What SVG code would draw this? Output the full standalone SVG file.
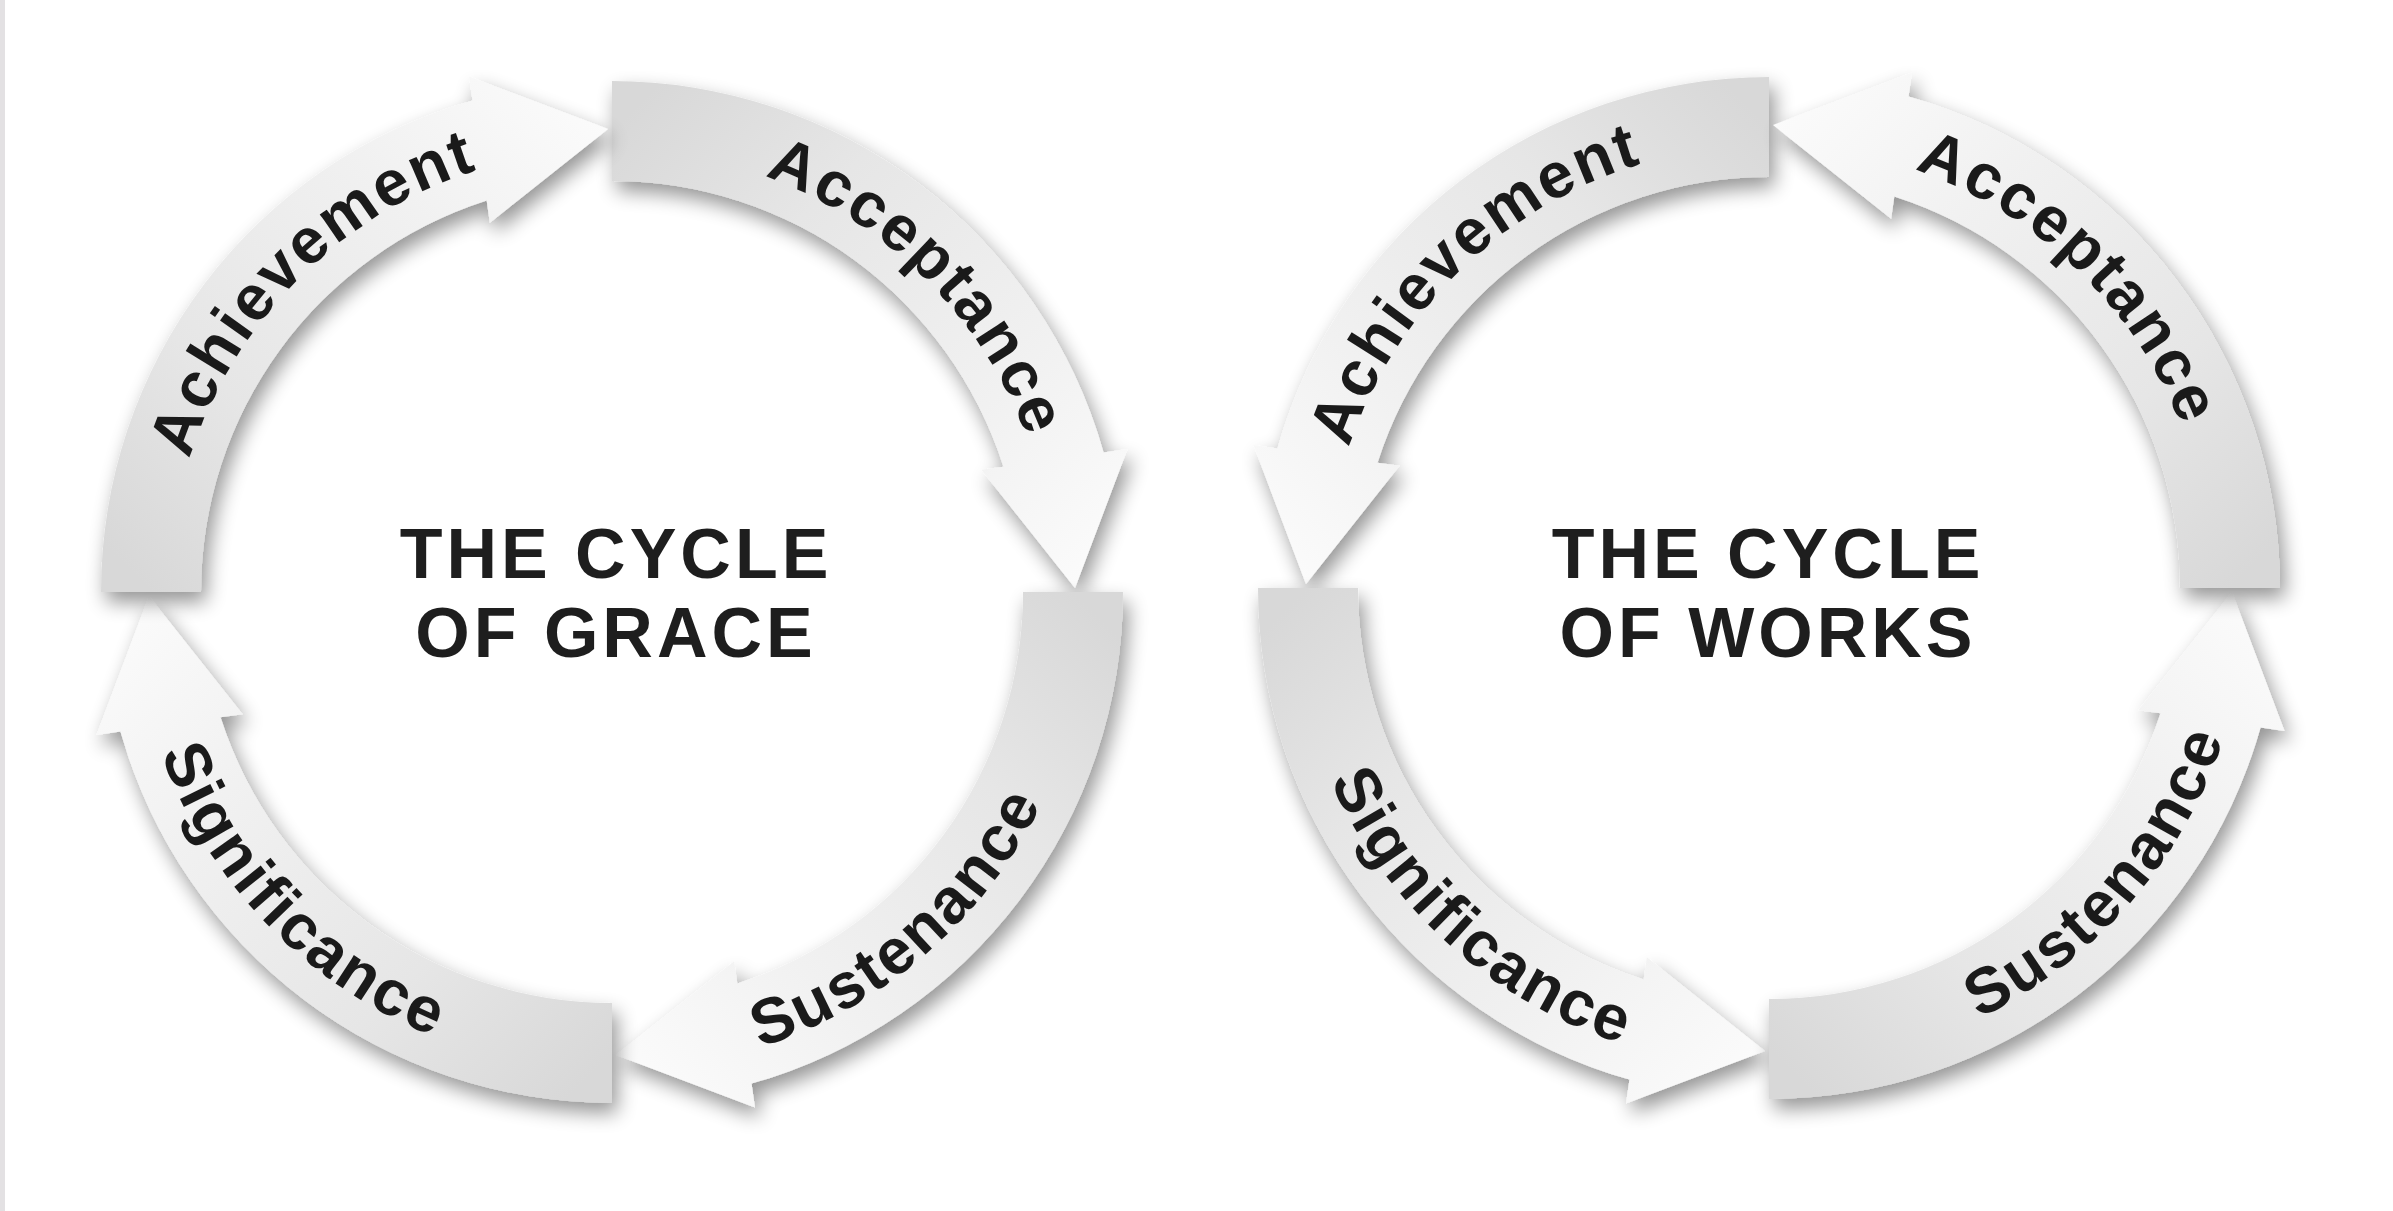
<svg xmlns="http://www.w3.org/2000/svg" width="2393" height="1211" viewBox="0 0 2393 1211">
  <style>
    .lbl { font-family: "Liberation Sans", Arial, sans-serif; font-weight: bold; font-size: 64px; letter-spacing: 2.5px; fill: #1a1a1a; }
    .title { font-family: "Liberation Sans", Arial, sans-serif; font-weight: bold; fill: #1e1e1e; text-anchor: middle; font-size: 70px; letter-spacing: 4px; }
  </style>
  <defs>
    <linearGradient id="armFill" gradientUnits="userSpaceOnUse" x1="0" y1="-461" x2="463" y2="0">
      <stop offset="0" stop-color="#d8d8d8"/>
      <stop offset="0.3" stop-color="#e6e6e6"/>
      <stop offset="0.7" stop-color="#f1f1f1"/>
      <stop offset="1" stop-color="#fbfbfb"/>
    </linearGradient>
    <filter id="shadow" x="-25%" y="-25%" width="150%" height="160%">
      <feGaussianBlur in="SourceAlpha" stdDeviation="10"/>
      <feOffset dx="5" dy="10"/>
      <feComponentTransfer>
        <feFuncA type="linear" slope="0.42"/>
      </feComponentTransfer>
      <feMerge>
        <feMergeNode/>
        <feMergeNode in="SourceGraphic"/>
      </feMerge>
    </filter>
    <path id="arm" fill="url(#armFill)" d="M0,-511 A511,511 0 0 1 491.56,-139.55 L515.54,-142.97 L463,-4 L369.33,-122.14 L391.48,-125.30 A411,411 0 0 0 0,-411 Z"/>
    <!-- label paths, left circle -->
    <path id="tpGAch" d="M249.12,846.10 A443,443 0 0 1 866.10,229.12"/>
    <path id="tpGAcc" d="M357.90,229.12 A443,443 0 0 1 974.88,846.10"/>
    <path id="tpGSus" d="M310.56,964.25 A479,479 0 0 0 1022.58,345.30"/>
    <path id="tpGSig" d="M224.48,310.45 A479,479 0 0 0 879.85,989.11"/>
    <!-- label paths, right circle -->
    <path id="tpWAch" d="M1401.74,835.72 A443,443 0 0 1 2029.39,229.60"/>
    <path id="tpWAcc" d="M1508.61,229.60 A443,443 0 0 1 2136.26,835.72"/>
    <path id="tpWSig" d="M1362.78,334.17 A479,479 0 0 0 2063.90,965.46"/>
    <path id="tpWSus" d="M1522.30,998.58 A479,479 0 0 0 2141.25,286.56"/>
  </defs>

  <rect x="0" y="0" width="2393" height="1211" fill="#ffffff"/>
  <rect x="0" y="0" width="5" height="1211" fill="#e3e1e3"/>

  <!-- Cycle of Grace (clockwise) -->
  <g id="grace-acceptance">
    <g filter="url(#shadow)"><use href="#arm" transform="translate(612,592) rotate(0)"/></g>
    <text class="lbl"><textPath href="#tpGAcc" startOffset="50%" text-anchor="middle">Acceptance</textPath></text>
  </g>
  <g id="grace-sustenance">
    <g filter="url(#shadow)"><use href="#arm" transform="translate(612,592) rotate(90)"/></g>
    <text class="lbl"><textPath href="#tpGSus" startOffset="50%" text-anchor="middle">Sustenance</textPath></text>
  </g>
  <g id="grace-significance">
    <g filter="url(#shadow)"><use href="#arm" transform="translate(612,592) rotate(180)"/></g>
    <text class="lbl"><textPath href="#tpGSig" startOffset="50%" text-anchor="middle">Significance</textPath></text>
  </g>
  <g id="grace-achievement">
    <g filter="url(#shadow)"><use href="#arm" transform="translate(612,592) rotate(270)"/></g>
    <text class="lbl"><textPath href="#tpGAch" startOffset="50%" text-anchor="middle">Achievement</textPath></text>
  </g>
  <g id="grace-title">
    <text class="title" x="616" y="578">THE CYCLE</text>
    <text class="title" x="616" y="657">OF GRACE</text>
  </g>

  <!-- Cycle of Works (counter-clockwise) -->
  <g id="works-achievement">
    <g filter="url(#shadow)"><use href="#arm" transform="translate(1769,588) scale(-1,1)"/></g>
    <text class="lbl"><textPath href="#tpWAch" startOffset="50%" text-anchor="middle">Achievement</textPath></text>
  </g>
  <g id="works-significance">
    <g filter="url(#shadow)"><use href="#arm" transform="translate(1769,588) scale(-1,1) rotate(90)"/></g>
    <text class="lbl"><textPath href="#tpWSig" startOffset="50%" text-anchor="middle">Significance</textPath></text>
  </g>
  <g id="works-sustenance">
    <g filter="url(#shadow)"><use href="#arm" transform="translate(1769,588) scale(-1,1) rotate(180)"/></g>
    <text class="lbl"><textPath href="#tpWSus" startOffset="50%" text-anchor="middle">Sustenance</textPath></text>
  </g>
  <g id="works-acceptance">
    <g filter="url(#shadow)"><use href="#arm" transform="translate(1769,588) scale(-1,1) rotate(270)"/></g>
    <text class="lbl"><textPath href="#tpWAcc" startOffset="50%" text-anchor="middle">Acceptance</textPath></text>
  </g>
  <g id="works-title">
    <text class="title" x="1768" y="578">THE CYCLE</text>
    <text class="title" x="1768" y="657">OF WORKS</text>
  </g>
</svg>
